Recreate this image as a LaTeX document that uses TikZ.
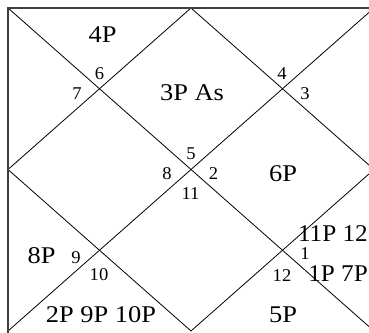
\documentclass[tikz,border=0pt]{standalone}
\usepackage{fontspec}
\setmainfont{Liberation Serif}
\usepackage{graphicx}
\tikzset{
  lbl/.style={inner sep=0pt, font=\fontsize{24}{26}\selectfont},
  num/.style={inner sep=0pt, font=\fontsize{18}{20}\selectfont},
  frame/.style={draw=black!75, line width=2pt},
  diag/.style={draw=black, line width=0.8pt},
}
\newcommand{\wx}[1]{\scalebox{1.1}[1]{#1}}
\newcommand{\wn}[1]{\scalebox{1.03}[1]{#1}}
\begin{document}
\begin{tikzpicture}[x=1pt,y=-1pt]
\useasboundingbox (0,0) rectangle (369,332);
\clip (0,0) rectangle (369,332);
\coordinate (TL) at (8,8);
\coordinate (BR) at (374,331);
\coordinate (TR) at (374,8);
\coordinate (BL) at (8,331);
\coordinate (FB) at (376,335);
\coordinate (T) at (191,8);
\coordinate (R) at (374,169.5);
\coordinate (B) at (191,331);
\coordinate (L) at (8,169.5);
\draw[diag] (TL) -- (BR);
\draw[diag] (TR) -- (BL);
\draw[diag] (T) -- (R) -- (B) -- (L) -- cycle;
\draw[frame] (TL) rectangle (FB);
% planet labels
\node[lbl] (h4p) at (102.5,35) {\wx{4P}};
\node[lbl] (h3p) at (192,92.5) {\wx{3P As}};
\node[lbl] (h6p) at (283,173.5) {\wx{6P}};
\node[lbl,anchor=east] (h11p) at (368,233.5) {\scalebox{1.05}[1]{11P 12}};
\node[lbl,anchor=east] (h1p) at (368,273.5) {\scalebox{1.05}[1]{1P 7P}};
\node[lbl] (h5p) at (283,315) {\wx{5P}};
\node[lbl] (h8p) at (41.5,255.5) {\wx{8P}};
\node[lbl] (h2p) at (101,314.5) {\wx{2P 9P 10P}};
% sign numbers
\node[num] (n6) at (99.5,74) {\wn{6}};
\node[num] (n7) at (77,93.5) {\wn{7}};
\node[num] (n4) at (282,74) {\wn{4}};
\node[num] (n3) at (305,94) {\wn{3}};
\node[num] (n5) at (191,154) {\wn{5}};
\node[num] (n8) at (167,174) {\wn{8}};
\node[num] (n2) at (213.5,174) {\wn{2}};
\node[num] (n11) at (190.5,194) {\wn{11}};
\node[num] (n1) at (305,254) {\wn{1}};
\node[num] (n12) at (282,276) {\wn{12}};
\node[num] (n9) at (76,257.5) {\wn{9}};
\node[num] (n10) at (99,275) {\wn{10}};
\end{tikzpicture}
\end{document}
